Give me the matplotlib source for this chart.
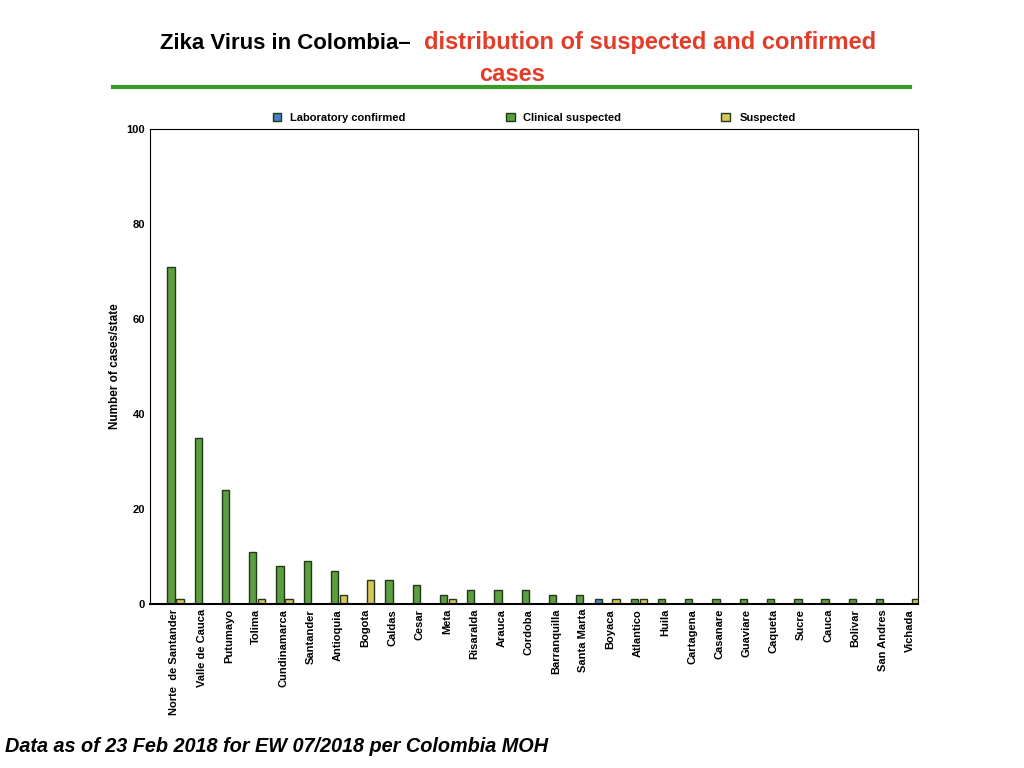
import matplotlib
matplotlib.use("Agg")
import matplotlib.pyplot as plt
import numpy as np
from matplotlib.lines import Line2D

plt.rcParams['font.family'] = ['Liberation Sans', 'DejaVu Sans']

states = ["Norte  de Santander","Valle de Cauca","Putumayo","Tolima","Cundinamarca","Santander",
          "Antioquia","Bogota","Caldas","Cesar","Meta","Risaralda","Arauca","Cordoba","Barranquilla",
          "Santa Marta","Boyaca","Atlantico","Huila","Cartagena","Casanare","Guaviare","Caqueta",
          "Sucre","Cauca","Bolivar","San Andres","Vichada"]
lab = [0,0,0,0,0,0,0,0,0,0,0,0,0,0,0,0,1,0,0,0,0,0,0,0,0,0,0,0]
clinical = [71,35,24,11,8,9,7,0,5,4,2,3,3,3,2,2,0,1,1,1,1,1,1,1,1,1,1,0]
suspected = [1,0,0,1,1,0,2,5,0,0,1,0,0,0,0,0,1,1,0,0,0,0,0,0,0,0,0,1]

fig = plt.figure(figsize=(10.24,7.68), dpi=100)
ax = fig.add_axes([0.1465, 0.2135, 0.75, 0.6185])
x = np.arange(len(states))
w = 0.27
ec = "#1f3a14"
ax.bar(x-0.31, lab, w, color="#4a7fc8", edgecolor=ec, linewidth=1, label="Laboratory confirmed")
ax.bar(x, clinical, w, color="#5c9e40", edgecolor=ec, linewidth=1, label="Clinical suspected")
ax.bar(x+0.33, suspected, w, color="#d8c45a", edgecolor=ec, linewidth=1, label="Suspected")
ax.set_xlim(-0.77, 27.41)
ax.set_ylim(0, 100)
ax.set_yticks([0,20,40,60,80,100])
ax.set_xticks(x+0.12)
ax.set_xticklabels(states, rotation=90, fontsize=8, fontweight="bold")
ax.tick_params(axis="both", length=0, labelsize=8)
for t in ax.get_yticklabels():
    t.set_fontweight("bold")
ax.set_ylabel("Number of cases/state", fontsize=8.5, fontweight="bold")
for s in ax.spines.values():
    s.set_linewidth(0.8)
ax.spines["bottom"].set_linewidth(1.5)
ax.legend(loc="upper center", bbox_to_anchor=(0.5, 1.055), ncol=3, frameon=False,
          prop={"weight":"bold","size":8}, handlelength=0.8, handleheight=0.8,
          columnspacing=9)

fig.text(0.401, 0.936, "Zika Virus in Colombia\u2013", ha="right", fontsize=16, fontweight="bold", color="black")
fig.text(0.414, 0.936, "distribution of suspected and confirmed", ha="left", fontsize=17, fontweight="bold", color="#e23d28")
fig.text(0.5, 0.895, "cases", ha="center", fontsize=17, fontweight="bold", color="#e23d28")
fig.add_artist(Line2D([0.11, 0.889], [0.887, 0.887], color="#3a9a2a", linewidth=3))
fig.text(0.005, 0.021, "Data as of 23 Feb 2018 for EW 07/2018 per Colombia MOH", fontsize=14.3,
         fontweight="bold", style="italic")
fig.savefig("out.png", dpi=100)
